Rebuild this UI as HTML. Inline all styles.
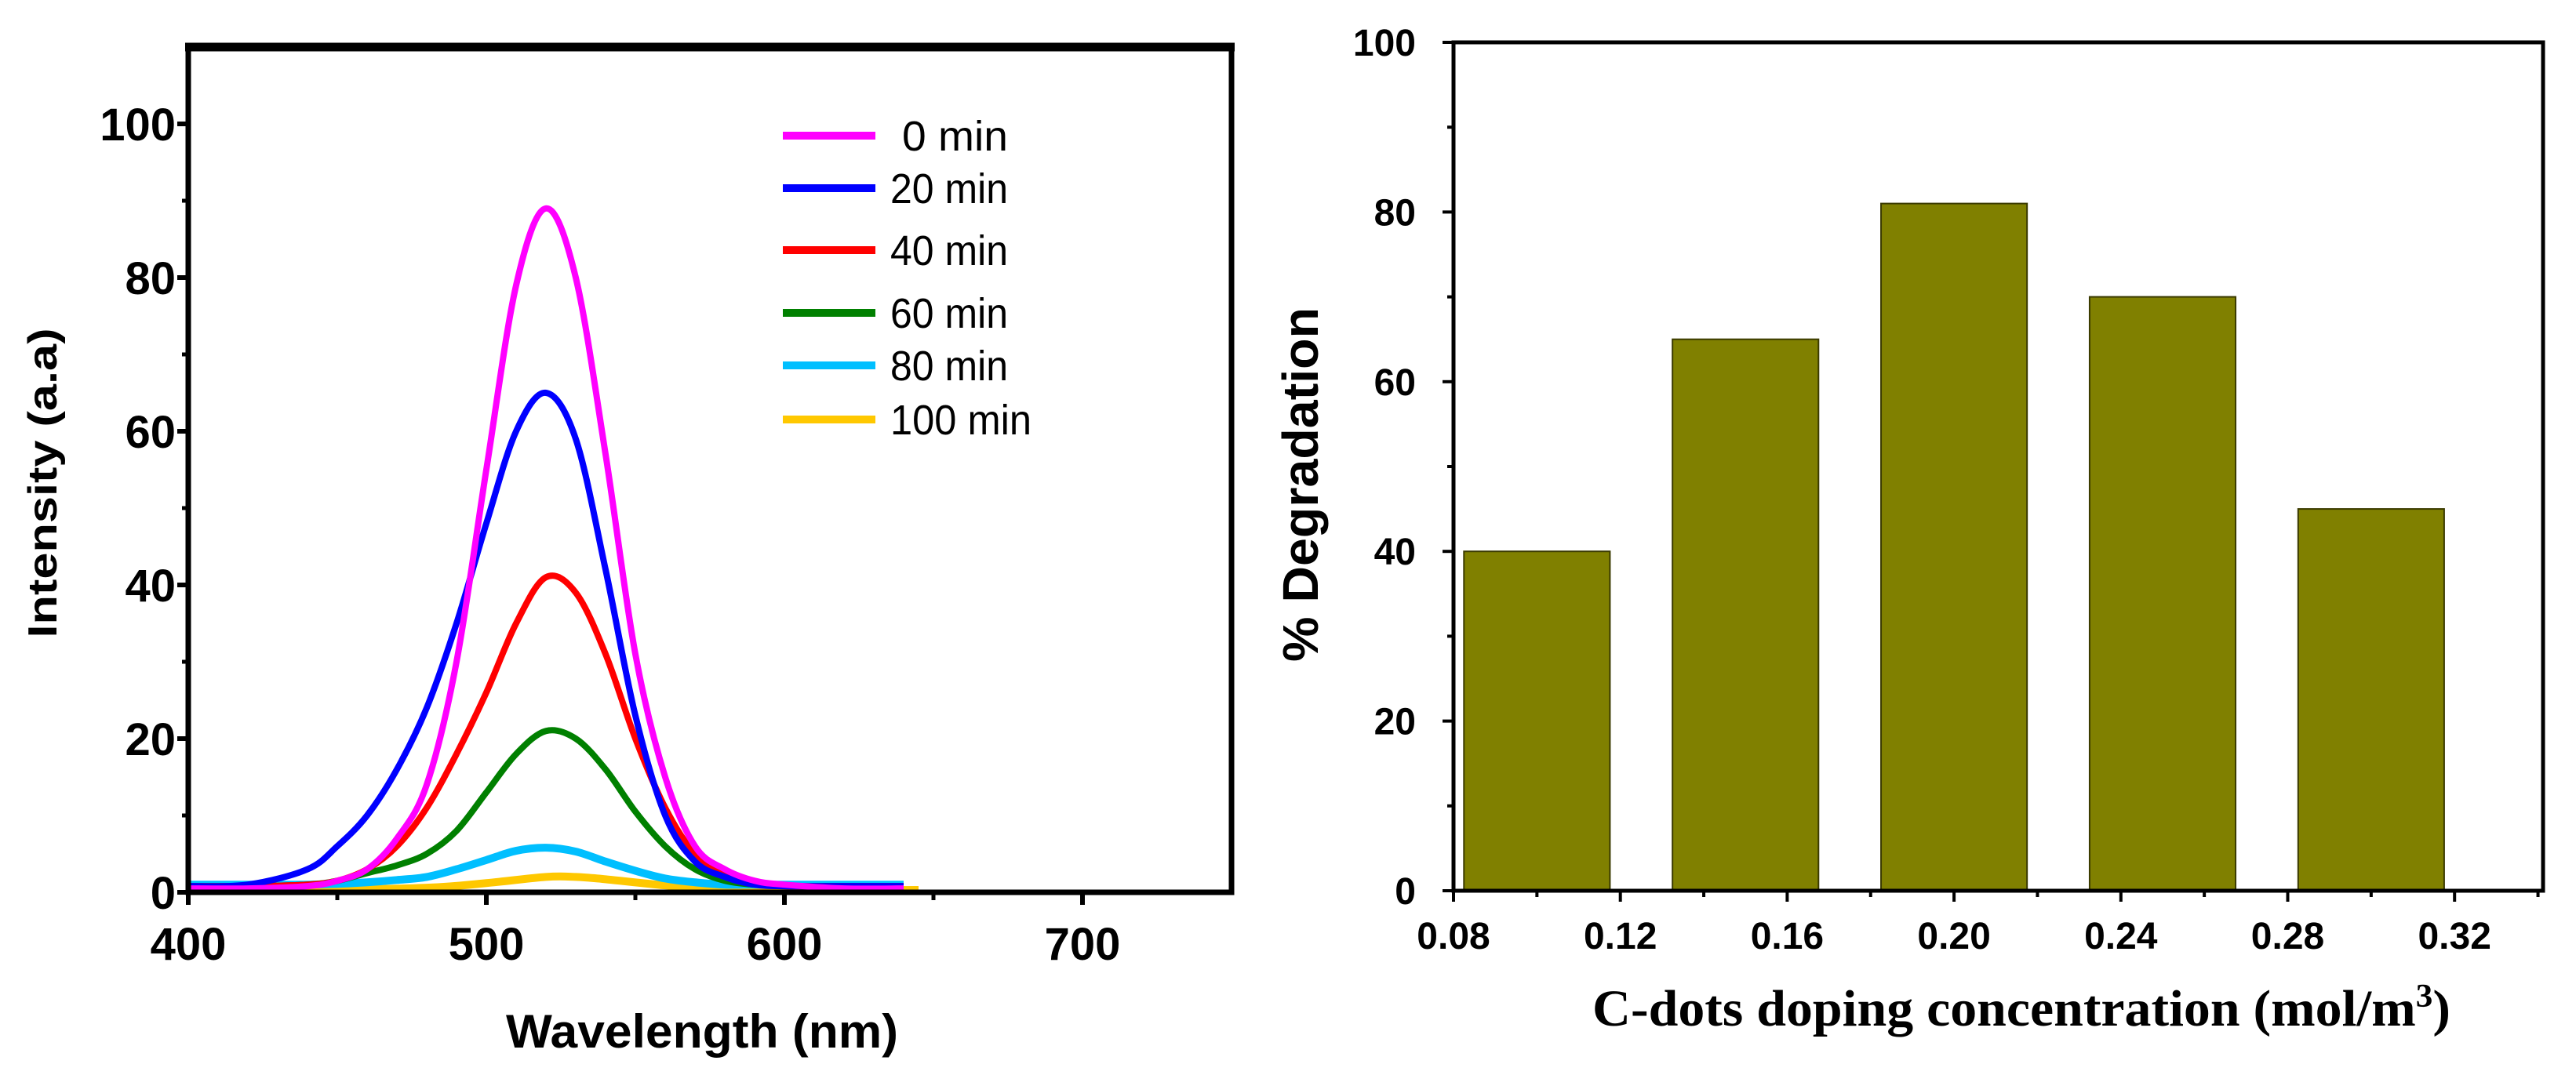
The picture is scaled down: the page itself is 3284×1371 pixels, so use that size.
<!DOCTYPE html>
<html><head><meta charset="utf-8"><style>
html,body{margin:0;padding:0;background:#fff;}
svg{display:block;}
text{font-family:"Liberation Sans",Arial,sans-serif;}
</style></head><body>
<svg id="fig" width="3284" height="1371" viewBox="0 0 3284 1371" xmlns="http://www.w3.org/2000/svg">
<g id="left"></g>
<g id="right"></g>
</svg>
<script>
// ---- Left chart data ----
const wl0 = [400,420,440,450,460,470,480,490,500,510,520,530,540,550,560,570,580,590,600,620,640];
const s0min = [0.5,0.5,0.8,1.5,3,7,14,30,55,79,89,80,57,31,15,6,3,1.5,1,0.5,0.5];
const s20min = [0.8,1,3,6,10,16,24,35,48,60,65,59,42,23,10,4,2,1,0.8,0.8,0.8];
const s40min = [0.8,0.8,1,1.5,3,6,11,18,26,35,41,39,31,20,11,5,2.5,1.2,0.8,0.8,0.8];
const s60min = [0.8,0.8,1,1.5,2.5,3.5,5,8,13,18,21,20,16,10.5,6,3,1.5,1,0.8,0.8,0.8];
const s80min = [1,1,1,1.1,1.3,1.6,2,3,4.2,5.4,5.8,5.3,4,2.8,1.8,1.3,1,1,1,1,1];
const wl100 = [405,440,480,500,520,530,540,560,580,600,645];
const s100min = [0.3,0.3,0.6,1.2,2,2,1.7,0.9,0.4,0.3,0.3];
const seriesNames = ["0 min","20 min","40 min","60 min","80 min","100 min"];
const seriesColors = ["#ff00ff","#0000ff","#ff0000","#008000","#00bfff","#ffc800"];
const xTicksL = [400,500,600,700];
const yTicksL = [0,20,40,60,80,100];

// ---- Right chart data ----
const conc = [0.10,0.15,0.20,0.25,0.30];
const degradation = [40,65,81,70,45];
const xTicksR = ["0.08","0.12","0.16","0.20","0.24","0.28","0.32"];
const yTicksR = [0,20,40,60,80,100];

const NS="http://www.w3.org/2000/svg";
function mk(parent,tag,attrs,txt){const e=document.createElementNS(NS,tag);for(const k in attrs)e.setAttribute(k,attrs[k]);if(txt!==undefined)e.textContent=txt;parent.appendChild(e);return e;}

const L={x0:240,x1:1570,y0:1138,y1:60};
const lx=w=>240+(w-400)*3.8;
const ly=v=>1138-v*9.8;
const gl=document.getElementById('left');
function smooth(pts){let d="M"+pts[0][0]+","+pts[0][1];for(let i=0;i<pts.length-1;i++){const p0=pts[Math.max(i-1,0)],p1=pts[i],p2=pts[i+1],p3=pts[Math.min(i+2,pts.length-1)];const c1x=p1[0]+(p2[0]-p0[0])/6,c1y=p1[1]+(p2[1]-p0[1])/6,c2x=p2[0]-(p3[0]-p1[0])/6,c2y=p2[1]-(p3[1]-p1[1])/6;d+=` C${c1x},${c1y} ${c2x},${c2y} ${p2[0]},${p2[1]}`;}return d;}
const allSeries=[[wl0,s0min],[wl0,s20min],[wl0,s40min],[wl0,s60min],[wl0,s80min],[wl100,s100min]];
const order=[5,4,3,2,1,0];
order.forEach(i=>{const [xs,ys]=allSeries[i];const pts=xs.map((w,j)=>[lx(w),ly(ys[j])]);
 const p=mk(gl,'path',{d:smooth(pts),fill:'none',stroke:seriesColors[i],'stroke-width':(i>=4?10:8),'stroke-linejoin':'round'});
 
 
});
let fr=mk(gl,'path',{d:`M${L.x0},${L.y1} L${L.x0},${L.y0} L${L.x1},${L.y0} L${L.x1},${L.y1}`,fill:'none',stroke:'#000','stroke-width':7});

let tl=mk(gl,'line',{x1:L.x0-4,y1:L.y1,x2:L.x1+4,y2:L.y1,stroke:'#000','stroke-width':11});

yTicksL.forEach(v=>{const y=ly(v);
 const t=mk(gl,'line',{x1:L.x0-14,y1:y,x2:L.x0,y2:y,stroke:'#000','stroke-width':6});
 
 const lb=mk(gl,'text',{x:224,y:y+21,'text-anchor':'end','font-size':58,'font-weight':'bold'},String(v));
 
 if(v<100){const m=mk(gl,'line',{x1:L.x0-8,y1:ly(v+10),x2:L.x0,y2:ly(v+10),stroke:'#000','stroke-width':5});
  }
});
xTicksL.forEach(w=>{const x=lx(w);
 const t=mk(gl,'line',{x1:x,y1:L.y0,x2:x,y2:L.y0+16,stroke:'#000','stroke-width':6});
 
 const lb=mk(gl,'text',{x:x,y:1224,'text-anchor':'middle','font-size':58,'font-weight':'bold'},String(w));
 
 if(w<700){const m=mk(gl,'line',{x1:lx(w+50),y1:L.y0,x2:lx(w+50),y2:L.y0+10,stroke:'#000','stroke-width':5});
  }
});
let xt=mk(gl,'text',{x:895,y:1336,'text-anchor':'middle','font-size':60,'font-weight':'bold',textLength:500,lengthAdjust:'spacingAndGlyphs'},'Wavelength (nm)');

let yt=mk(gl,'text',{x:0,y:0,transform:'translate(72,616) rotate(-90)','text-anchor':'middle','font-size':52,'font-weight':'bold',textLength:395,lengthAdjust:'spacingAndGlyphs'},'Intensity (a.a)');

const legY=[173,240,319,399,466,535];
seriesNames.forEach((n,i)=>{
 const g=mk(gl,'g',{});
 
 mk(g,'line',{x1:998,y1:legY[i],x2:1116,y2:legY[i],stroke:seriesColors[i],'stroke-width':10});
 mk(g,'text',{x:i===0?1150:1135,y:legY[i]+19,'font-size':54,textLength:i===0?135:(i===5?180:150),lengthAdjust:'spacingAndGlyphs'},n);
});

const R={x0:1853,x1:3242,y0:1136,y1:54};
const rx=c=>1853+(c-0.08)/0.04*212.7;
const ry=v=>1136-v*10.82;
const gr=document.getElementById('right');
conc.forEach((c,i)=>{
 const b=mk(gr,'rect',{x:rx(c-0.0175),y:ry(degradation[i]),width:rx(c+0.0175)-rx(c-0.0175),height:ry(0)-ry(degradation[i]),fill:'#808000',stroke:'#3a3a00','stroke-width':2});
 
});
let fr2=mk(gr,'rect',{x:R.x0,y:R.y1,width:R.x1-R.x0,height:R.y0-R.y1,fill:'none',stroke:'#000','stroke-width':5});

yTicksR.forEach(v=>{const y=ry(v);
 const t=mk(gr,'line',{x1:R.x0-14,y1:y,x2:R.x0,y2:y,stroke:'#000','stroke-width':4});
 
 const lb=mk(gr,'text',{x:1805,y:y+17,'text-anchor':'end','font-size':48,'font-weight':'bold'},String(v));
 
 if(v<100){const m=mk(gr,'line',{x1:R.x0-8,y1:ry(v+10),x2:R.x0,y2:ry(v+10),stroke:'#000','stroke-width':4});
  }
});
xTicksR.forEach((s,i)=>{const c=parseFloat(s);const x=rx(c);
 const t=mk(gr,'line',{x1:x,y1:R.y0,x2:x,y2:R.y0+14,stroke:'#000','stroke-width':4});
 
 const lb=mk(gr,'text',{x:x,y:1210,'text-anchor':'middle','font-size':48,'font-weight':'bold'},s);
 
 const m=mk(gr,'line',{x1:rx(c+0.02),y1:R.y0,x2:rx(c+0.02),y2:R.y0+8,stroke:'#000','stroke-width':4});
 
});
let xt2=mk(gr,'text',{x:2577,y:1308,'text-anchor':'middle','font-size':66,'font-weight':'bold',style:'font-family:"Liberation Serif",serif',textLength:1094,lengthAdjust:'spacingAndGlyphs'});

mk(xt2,'tspan',{},'C-dots doping concentration (mol/m');
mk(xt2,'tspan',{dy:-24,'font-size':42},'3');
mk(xt2,'tspan',{dy:24},')');
let yt2=mk(gr,'text',{x:0,y:0,transform:'translate(1680,618) rotate(-90)','text-anchor':'middle','font-size':64,'font-weight':'bold',textLength:452,lengthAdjust:'spacingAndGlyphs'},'% Degradation');

</script>
</body></html>
